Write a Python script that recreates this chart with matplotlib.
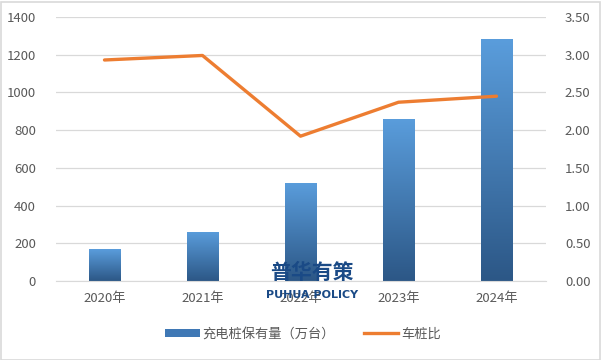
import numpy as np
import matplotlib.pyplot as plt
import matplotlib.colors as mcolors
from matplotlib.patches import Rectangle, Patch
from matplotlib.lines import Line2D

plt.rcParams['font.family'] = ['Noto Sans CJK SC', 'DejaVu Sans']

years = ["2020年", "2021年", "2022年", "2023年", "2024年"]
piles = [168.1, 261.7, 521.0, 859.6, 1281.8]      # 充电桩保有量（万台）
ratio = [2.93, 2.99, 1.92, 2.37, 2.45]             # 车桩比

BAR_TOP = "#5A9DDC"
BAR_BOT = "#2C5786"
LINE_C = "#ED7D31"
TXT_C = "#595959"
GRID_C = "#D9D9D9"

fig = plt.figure(figsize=(6.01, 3.6), dpi=100)
ax = fig.add_axes([55.5 / 601, 1 - 281 / 360, 490 / 601, 264 / 360])
ax2 = ax.twinx()

x = np.arange(len(years))
bw = 0.32
ax.set_xlim(-0.5, len(years) - 0.5)
ax.set_ylim(0, 1400)
ax.set_yticks(range(0, 1401, 200))
ax2.set_ylim(0, 3.5)
ax2.set_yticks(np.arange(0, 3.51, 0.5))
ax2.set_yticklabels([f"{v:.2f}" for v in np.arange(0, 3.51, 0.5)])

ax.grid(axis='y', color=GRID_C, linewidth=0.9)
ax.set_axisbelow(True)

# gradient bars
grad_cmap = mcolors.LinearSegmentedColormap.from_list("bar", [BAR_BOT, BAR_TOP])
grad = np.linspace(0, 1, 256).reshape(-1, 1)
bars = ax.bar(x, piles, width=bw, color='none', zorder=2)
for b in bars:
    bx, by = b.get_x(), b.get_y()
    bwid, bh = b.get_width(), b.get_height()
    im = ax.imshow(grad, extent=[bx, bx + bwid, by, by + bh], origin='lower',
                   cmap=grad_cmap, aspect='auto', zorder=2)
    clip = Rectangle((bx, by), bwid, bh, transform=ax.transData)
    im.set_clip_path(clip)
ax.set_xlim(-0.5, len(years) - 0.5)
ax.set_ylim(0, 1400)

ax2.plot(x, ratio, color=LINE_C, linewidth=2.4, solid_capstyle='round', zorder=5)
ax2.set_zorder(ax.get_zorder() + 1)
ax2.patch.set_visible(False)

ax.set_xticks(x)
ax.set_xticklabels(years)
for a in (ax, ax2):
    for s in a.spines.values():
        s.set_visible(False)
    a.tick_params(length=0, colors=TXT_C, labelsize=9.5)
ax.spines['bottom'].set_visible(True)
ax.spines['bottom'].set_color(GRID_C)
ax.tick_params(axis='x', pad=8)
ax.tick_params(axis='y', pad=14)
ax2.tick_params(axis='y', pad=14)

# watermark
fig.text(312 / 601, 1 - 272 / 360, "普华有策", fontsize=15, fontweight='bold',
         color="#1A4A86", ha='center', va='center', zorder=10)
fig.text(312 / 601, 1 - 295 / 360, "PUHUA POLICY", fontsize=8, fontweight='bold',
         color="#1A4A86", ha='center', va='center', zorder=10,
         family=['DejaVu Sans'])

handles = [Patch(facecolor="#3F78B5", edgecolor='none'),
           Line2D([0], [0], color=LINE_C, linewidth=2.4)]
fig.legend(handles, ["充电桩保有量（万台）", "车桩比"], loc='center',
           bbox_to_anchor=(303 / 601, 1 - 334 / 360), ncol=2, frameon=False,
           fontsize=9.5, labelcolor=TXT_C, handlelength=2.6, handleheight=0.6,
           columnspacing=2.2, handletextpad=0.2)

fig.patches.append(Rectangle((0.5 / 601, 0.5 / 360), 599 / 601, 358 / 360,
                             transform=fig.transFigure, fill=False,
                             edgecolor="#D9D9D9", linewidth=1.2))

fig.savefig("out.png", dpi=100)
